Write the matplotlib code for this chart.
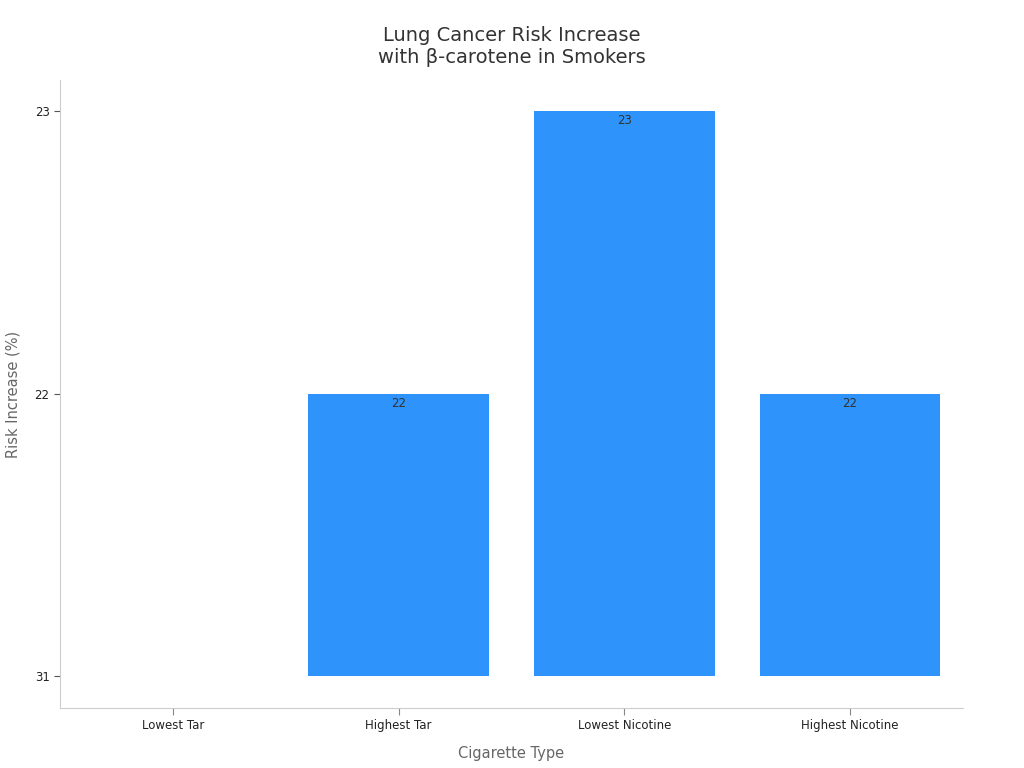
import matplotlib.pyplot as plt

# data (y axis is categorical: 31, 22, 23)
categories = ["Lowest Tar", "Highest Tar", "Lowest Nicotine", "Highest Nicotine"]
risk_values = ["31", "22", "23", "22"]

# y levels in order of first appearance
levels = []
for v in risk_values:
    if v not in levels:
        levels.append(v)
heights = [levels.index(v) for v in risk_values]

fig, ax = plt.subplots(figsize=(10.24, 7.68), dpi=100)
fig.subplots_adjust(left=0.0586, right=0.9404, top=0.8958, bottom=0.0781)

x = list(range(len(categories)))
bars = ax.bar(x, heights, width=0.8, color="#2E93FA", linewidth=0)

for b, h, v in zip(bars, heights, risk_values):
    if h > 0:
        ax.text(b.get_x() + b.get_width() / 2, h - 0.012, v, ha="center", va="top",
                fontsize=8.5, color="#333333")

ax.set_xlim(-0.5, 3.5)
ax.set_ylim(-0.113, 2.11)
ax.set_xticks(x)
ax.set_xticklabels(categories, fontsize=8.5, color="#222222")
ax.set_yticks(range(len(levels)))
ax.set_yticklabels(levels, fontsize=8.5, color="#222222")

for s in ["top", "right"]:
    ax.spines[s].set_visible(False)
for s in ["left", "bottom"]:
    ax.spines[s].set_color("#cccccc")
ax.tick_params(axis="x", colors="#888888", labelcolor="#222222", length=5, pad=3)
ax.tick_params(axis="y", colors="#555555", labelcolor="#222222", length=4)

ax.set_xlabel("Cigarette Type", fontsize=10.5, color="#666666", labelpad=10)
ax.set_ylabel("Risk Increase (%)", fontsize=10.5, color="#666666", labelpad=10)
ax.set_title("Lung Cancer Risk Increase\nwith β-carotene in Smokers", fontsize=14,
             color="#333333", pad=12)

fig.savefig("out.png", dpi=100)
